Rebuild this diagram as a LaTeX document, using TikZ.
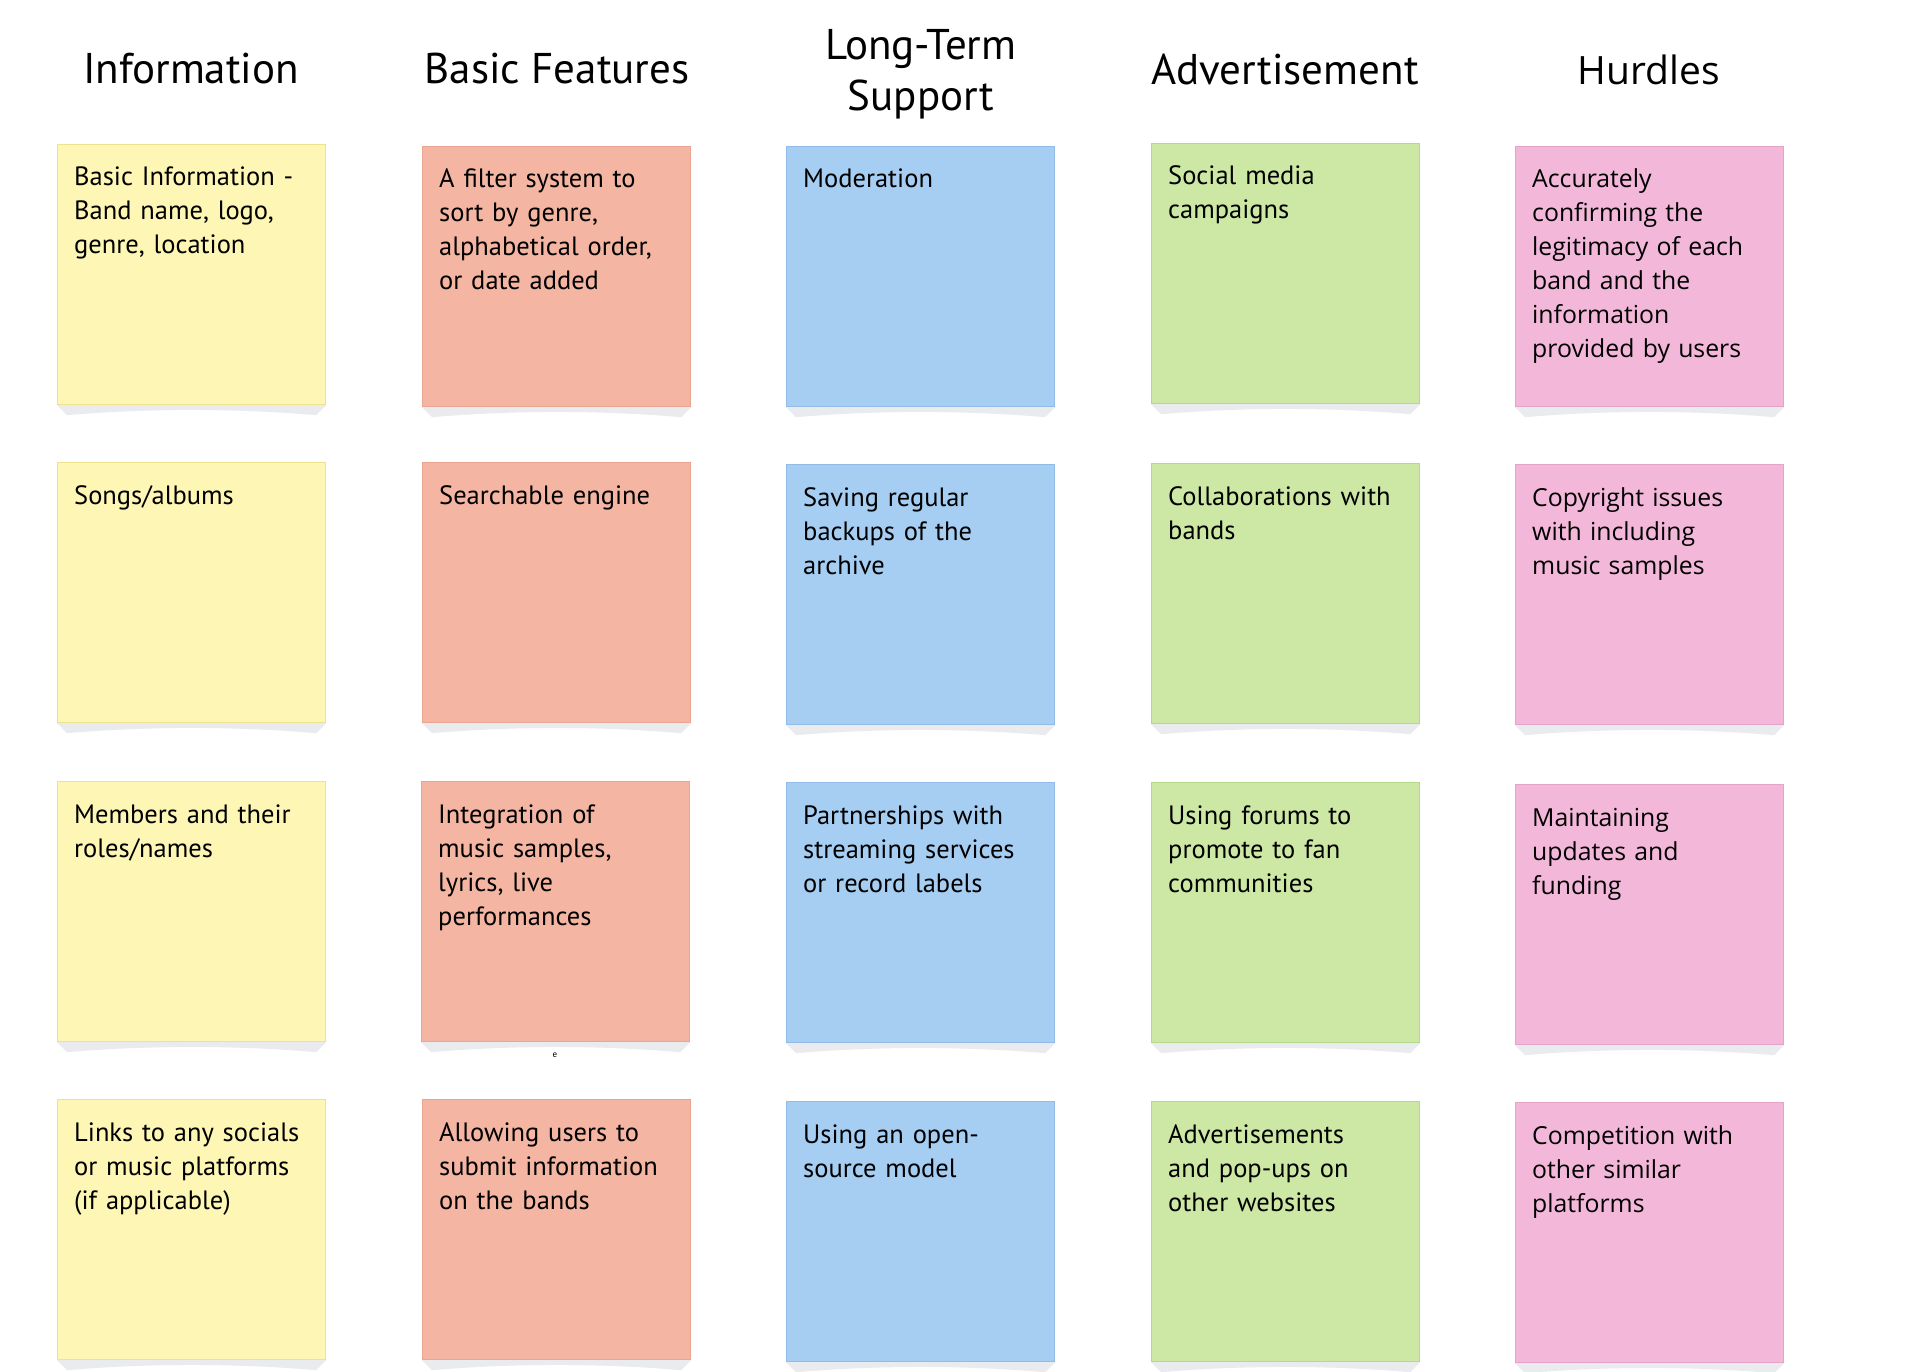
\documentclass[tikz,border=0pt]{standalone}
\usepackage{fontspec}
\setmainfont{PT Sans}
\newfontfamily\hurdfont{Open Sans}
\definecolor{yelF}{HTML}{FDF6B4}
\definecolor{yelD}{HTML}{EDE38F}
\definecolor{salF}{HTML}{F4B6A2}
\definecolor{salD}{HTML}{E9A592}
\definecolor{bluF}{HTML}{A6CEF2}
\definecolor{bluD}{HTML}{92BCE6}
\definecolor{grnF}{HTML}{CDE8A4}
\definecolor{grnD}{HTML}{B5D98A}
\definecolor{pnkF}{HTML}{F3B8D9}
\definecolor{pnkD}{HTML}{E6A3C8}
\definecolor{shad}{HTML}{E9EBEE}
\tikzset{
  notebox/.style={rectangle, anchor=north west, minimum width=268pt, minimum height=260pt, inner sep=0pt, line width=1.2pt},
  notetext/.style={anchor=base west, inner sep=0pt, text width=255pt, align=left},
  headtext/.style={anchor=base, inner sep=0pt, align=center, font=\fontsize{43}{50}\selectfont},
}
% \stickynote{name}{x}{y}{fill}{draw}{font}{text}
\newcommand\stickynote[7]{%
  \node[notebox, fill=#4, draw=#5] (#1) at (#2,#3) {};
  \fill[shad] (#1.south west) -- (#1.south east) -- ([shift={(-10,10)}]#1.south east)
     .. controls ([shift={(-90,3)}]#1.south east) and ([shift={(90,3)}]#1.south west)
     .. ([shift={(10,10)}]#1.south west) -- cycle;
  \node[notetext, font=#6] (#1t) at ([shift={(17,42)}]#1.north west) {#7};
}
\newcommand\bodyA{\fontsize{26.5}{34}\selectfont}
\newcommand\bodyB{\hurdfont\fontsize{24.8}{34}\selectfont}
\begin{document}
\begin{tikzpicture}[x=1pt,y=-1pt]
\useasboundingbox[fill=white] (0,0) rectangle (1911,1372);
% headings
\node[headtext] (h1) at (191,84) {Information};
\node[headtext] (h2) at (557,84) {Basic Features};
\node[headtext] (h3) at (921,60) {Long-Term};
\node[headtext] (h3b) at (921,111) {Support};
\node[headtext] (h4) at (1285,85) {Advertisement};
\node[headtext, font=\hurdfont\fontsize{39}{50}\selectfont] (h5) at (1649,85) {Hurdles};
% column 1
\stickynote{a1}{57}{144}{yelF}{yelD}{\bodyA}{Basic Information -\\Band name, logo,\\genre, location}
\stickynote{a2}{57}{462}{yelF}{yelD}{\bodyA}{Songs/albums}
\stickynote{a3}{57}{781}{yelF}{yelD}{\bodyA}{Members and their\\roles/names}
\stickynote{a4}{57}{1099}{yelF}{yelD}{\bodyA}{Links to any socials\\or music platforms\\(if applicable)}
% column 2
\stickynote{b1}{422}{146}{salF}{salD}{\bodyA}{A filter system to\\sort by genre,\\alphabetical order,\\or date added}
\stickynote{b2}{422}{462}{salF}{salD}{\bodyA}{Searchable engine}
\stickynote{b3}{421}{781}{salF}{salD}{\bodyA}{Integration of\\music samples,\\lyrics, live\\performances}
\stickynote{b4}{422}{1099}{salF}{salD}{\bodyA}{Allowing users to\\submit information\\on the bands}
% column 3
\stickynote{c1}{786}{146}{bluF}{bluD}{\bodyA}{Moderation}
\stickynote{c2}{786}{464}{bluF}{bluD}{\bodyA}{Saving regular\\backups of the\\archive}
\stickynote{c3}{786}{782}{bluF}{bluD}{\bodyA}{Partnerships with\\streaming services\\or record labels}
\stickynote{c4}{786}{1101}{bluF}{bluD}{\bodyA}{Using an open-\\source model}
% column 4
\stickynote{d1}{1151}{143}{grnF}{grnD}{\bodyA}{Social media\\campaigns}
\stickynote{d2}{1151}{463}{grnF}{grnD}{\bodyA}{Collaborations with\\bands}
\stickynote{d3}{1151}{782}{grnF}{grnD}{\bodyA}{Using forums to\\promote to fan\\communities}
\stickynote{d4}{1151}{1101}{grnF}{grnD}{\bodyA}{Advertisements\\and pop-ups on\\other websites}
% column 5
\stickynote{e1}{1515}{146}{pnkF}{pnkD}{\bodyB}{Accurately\\confirming the\\legitimacy of each\\band and the\\information\\provided by users}
\stickynote{e2}{1515}{464}{pnkF}{pnkD}{\bodyB}{Copyright issues\\with including\\music samples}
\stickynote{e3}{1515}{784}{pnkF}{pnkD}{\bodyB}{Maintaining\\updates and\\funding}
\stickynote{e4}{1515}{1102}{pnkF}{pnkD}{\bodyB}{Competition with\\other similar\\platforms}
% stray mark
\node[inner sep=0pt, font=\fontsize{9}{9}\selectfont] (stray) at (555,1055) {e};
\end{tikzpicture}
\end{document}
